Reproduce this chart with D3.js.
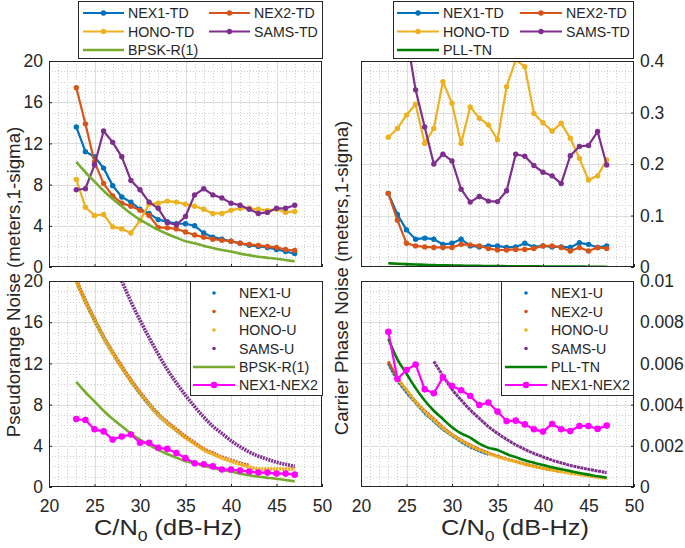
<!DOCTYPE html>
<html>
<head>
<meta charset="utf-8">
<script src="https://cdn.jsdelivr.net/npm/d3@7"></script>
<style>
  body { margin: 0; background: #fff; }
  svg text { font-family: "Liberation Sans", Arial, Helvetica, sans-serif; fill: #262626; }
</style>
</head>
<body>
<svg id="chart" width="685" height="548"></svg>
<script>
// ---- data ----
var cn0 = [23, 24, 25, 26, 27, 28, 29, 30, 31, 32, 33, 34, 35, 36, 37, 38, 39, 40, 41, 42, 43, 44, 45, 46, 47]

// pseudorange noise, tracking data (m)
var nex1PrTd = [13.6, 11.2, 10.7, 9.6, 7.9, 6.8, 6.3, 5.6, 5.2, 4.6, 4.4, 4.2, 4.2, 4.0, 3.3, 2.9, 2.7, 2.5, 2.3, 2.1, 2.0, 1.9, 1.7, 1.5, 1.3]
var nex2PrTd = [17.4, 13.9, 10.2, 8.1, 6.9, 6.2, 5.9, 5.5, 5.0, 3.85, 3.8, 3.7, 3.4, 3.1, 2.9, 2.7, 2.6, 2.5, 2.3, 2.2, 2.1, 2.0, 1.9, 1.7, 1.6]
var honoPrTd = [8.5, 5.8, 5.0, 5.1, 3.9, 3.7, 3.3, 4.5, 6.1, 6.2, 6.4, 6.3, 6.1, 5.9, 5.6, 5.2, 5.2, 5.5, 5.7, 5.7, 5.6, 5.5, 5.6, 5.3, 5.4]
var samsPrTd = [7.5, 7.6, 9.9, 13.2, 12.1, 10.7, 8.4, 7.5, 6.3, 5.7, 4.3, 4.1, 4.9, 7.0, 7.6, 7.0, 6.7, 6.2, 6.0, 5.6, 5.2, 5.3, 5.7, 5.7, 6.0]
var bpskR1 = [10.2, 9.2, 8.3, 7.4, 6.6, 5.9, 5.2, 4.6, 4.1, 3.6, 3.2, 2.85, 2.5, 2.3, 2.05, 1.85, 1.65, 1.5, 1.3, 1.15, 1.0, 0.9, 0.8, 0.68, 0.55]

// pseudorange noise, user estimates (start at 23 unless noted)
var nex1PrU = [20.0, 18.0, 16.2, 14.5, 13.0, 11.6, 10.3, 9.1, 8.0, 7.0, 6.2, 5.5, 4.8]
var nex2PrU = [20.1, 18.1, 16.3, 14.6, 13.1, 11.7, 10.4, 9.2, 8.1, 7.1, 6.3, 5.6, 4.9, 4.3, 3.7, 3.3, 2.9, 2.6, 2.3, 2.1]
var honoPrU = [20.0, 18.0, 16.2, 14.5, 13.0, 11.6, 10.3, 9.1, 8.0, 7.0, 6.2, 5.5, 4.8, 4.2, 3.6, 3.2, 2.8, 2.5, 2.2, 1.95, 1.75, 1.75, 1.75, 1.75, 1.75]
var samsPrU = [20.0, 18.0, 16.2, 14.5, 12.9, 11.4, 10.1, 8.9, 7.8, 6.8, 5.9, 5.2, 4.5, 3.9, 3.4, 3.0, 2.7, 2.4, 2.2, 2.0] // from 28
var nexDiffPr = [6.6, 6.5, 5.6, 5.4, 4.6, 4.9, 5.1, 4.3, 4.3, 3.8, 3.7, 3.3, 2.8, 2.3, 2.2, 2.0, 1.7, 1.7, 1.6, 1.5, 1.4, 1.4, 1.3, 1.3, 1.2]

// carrier phase noise, tracking data (m)
var nex1CpTd = [0.143, 0.102, 0.072, 0.054, 0.056, 0.054, 0.044, 0.046, 0.054, 0.041, 0.039, 0.041, 0.041, 0.038, 0.039, 0.046, 0.039, 0.041, 0.039, 0.039, 0.038, 0.047, 0.044, 0.038, 0.041]
var nex2CpTd = [0.143, 0.091, 0.046, 0.041, 0.039, 0.038, 0.038, 0.038, 0.044, 0.043, 0.041, 0.036, 0.033, 0.033, 0.034, 0.034, 0.036, 0.041, 0.041, 0.038, 0.031, 0.038, 0.031, 0.038, 0.036]
var honoCpTd = [0.252, 0.269, 0.295, 0.316, 0.240, 0.269, 0.360, 0.318, 0.240, 0.311, 0.289, 0.276, 0.247, 0.350, 0.402, 0.389, 0.298, 0.280, 0.264, 0.279, 0.250, 0.211, 0.169, 0.177, 0.208]
var samsCpTd = [0.60, 0.55, 0.45, 0.344, 0.272, 0.200, 0.219, 0.206, 0.151, 0.126, 0.137, 0.128, 0.127, 0.148, 0.219, 0.215, 0.197, 0.184, 0.177, 0.162, 0.216, 0.234, 0.236, 0.263, 0.198]
var pllTn = [0.0072, 0.0062, 0.0055, 0.0048, 0.0042, 0.0037, 0.0033, 0.0029, 0.0026, 0.0024, 0.0021, 0.0019, 0.0018, 0.0016, 0.00145, 0.0013, 0.00118, 0.00107, 0.00096, 0.00086, 0.00077, 0.00068, 0.0006, 0.00052, 0.00045]

// carrier phase noise, user estimates
var nex1CpU = [0.0060, 0.0052, 0.0046, 0.0041, 0.0036, 0.0032, 0.0028, 0.0025, 0.0022, 0.00195, 0.00175, 0.00158]
var nex2CpU = [0.0061, 0.0053, 0.0047, 0.00415, 0.0037, 0.0033, 0.0029, 0.00255, 0.00228, 0.00203, 0.00183, 0.00165, 0.0015, 0.00136, 0.00124, 0.00112, 0.00101, 0.00091, 0.00083, 0.00075]
var honoCpU = [0.00527, 0.0047, 0.00414, 0.00366, 0.00325, 0.00285, 0.00252, 0.00225, 0.002, 0.0018, 0.00163, 0.00147, 0.00134, 0.00122, 0.0011, 0.001, 0.0009, 0.00082, 0.00074, 0.00066, 0.0006, 0.00053, 0.00047, 0.00042] // from 24
var samsCpU = [0.0061, 0.0054, 0.00474, 0.00422, 0.00374, 0.00333, 0.00293, 0.0026, 0.00231, 0.00205, 0.00183, 0.00163, 0.00146, 0.0013, 0.00117, 0.00105, 0.00095, 0.00086, 0.00078, 0.0007] // from 28
var nexDiffCp = [0.00754, 0.00524, 0.00568, 0.00595, 0.00474, 0.00455, 0.00532, 0.0049, 0.0047, 0.00442, 0.00398, 0.0041, 0.00366, 0.0032, 0.00322, 0.00304, 0.0028, 0.00269, 0.00306, 0.0028, 0.00272, 0.00296, 0.00296, 0.00282, 0.00298]

// tick labels
var xTicks = [20, 25, 30, 35, 40, 45, 50]
var prTicks = [0, 4, 8, 12, 16, 20]
var cpTdTicks = [0, 0.1, 0.2, 0.3, 0.4]
var cpUTicks = [0, 0.002, 0.004, 0.006, 0.008, 0.01]

// ---- styles ----
var cBlue = '#0072BD', cRed = '#D95319', cYel = '#EDB120', cPur = '#7E2F8E'
var cGreen = '#77AC30', cDkGreen = '#008000', cMag = '#FF00FF'
var ink = '#262626'

var svg = d3.select('#chart')
var PW = 273, PH = 206

function pairs (xs, ys) {
  return ys.map(function (v, i) { return [xs[i], v] })
}

// one axes box with grid, ticks and clip
function makePanel (p) {
  var x = d3.scaleLinear().domain([20, 50]).range([p.left, p.left + PW])
  var y = d3.scaleLinear().domain([0, p.ymax]).range([p.top + PH, p.top])
  var g = svg.append('g')
  var clipId = 'clip-' + p.name

  svg.append('clipPath').attr('id', clipId).append('rect')
    .attr('x', p.left).attr('y', p.top).attr('width', PW).attr('height', PH)

  g.append('rect').attr('x', p.left).attr('y', p.top)
    .attr('width', PW).attr('height', PH).attr('fill', '#fff')

  // minor grid (dotted)
  var xMinor = d3.range(21, 50).filter(function (v) { return v % 5 !== 0 })
  var yMinor = d3.range(1, p.nMinor * (p.ticks.length - 1)).filter(function (i) { return i % p.nMinor !== 0 })
    .map(function (i) { return i * p.ymax / (p.nMinor * (p.ticks.length - 1)) })

  g.selectAll('.xmin').data(xMinor).enter().append('line')
    .attr('x1', function (d) { return Math.round(x(d)) + 0.5 }).attr('x2', function (d) { return Math.round(x(d)) + 0.5 })
    .attr('y1', p.top).attr('y2', p.top + PH)
    .attr('stroke', '#cfcfcf').attr('stroke-dasharray', '1,2')
  g.selectAll('.ymin').data(yMinor).enter().append('line')
    .attr('y1', function (d) { return Math.round(y(d)) + 0.5 }).attr('y2', function (d) { return Math.round(y(d)) + 0.5 })
    .attr('x1', p.left).attr('x2', p.left + PW)
    .attr('stroke', '#cfcfcf').attr('stroke-dasharray', '1,2')

  // major grid
  g.selectAll('.xmaj').data(xTicks.slice(1, -1)).enter().append('line')
    .attr('x1', function (d) { return Math.round(x(d)) + 0.5 }).attr('x2', function (d) { return Math.round(x(d)) + 0.5 })
    .attr('y1', p.top).attr('y2', p.top + PH)
    .attr('stroke', '#dcdcdc')
  g.selectAll('.ymaj').data(p.ticks.slice(1, -1)).enter().append('line')
    .attr('y1', function (d) { return Math.round(y(d)) + 0.5 }).attr('y2', function (d) { return Math.round(y(d)) + 0.5 })
    .attr('x1', p.left).attr('x2', p.left + PW)
    .attr('stroke', '#dcdcdc')

  var data = svg.append('g').attr('clip-path', 'url(#' + clipId + ')')

  return { x: x, y: y, g: g, data: data, p: p }
}

// box, ticks and tick labels go on top of the data
function finishPanel (pan) {
  var p = pan.p, x = pan.x, y = pan.y
  var g = svg.append('g')

  g.append('rect').attr('x', p.left + 0.5).attr('y', p.top + 0.5)
    .attr('width', PW - 1).attr('height', PH - 1)
    .attr('fill', 'none').attr('stroke', ink).attr('stroke-width', 1)

  var yAx = p.yRight ? d3.axisRight(y) : d3.axisLeft(y)
  yAx.tickValues(p.ticks).tickSize(-3).tickPadding(6)
    .tickFormat(function (d) { return String(d) })
  g.append('g')
    .attr('transform', 'translate(' + (p.yRight ? p.left + PW : p.left) + ',0)')
    .call(yAx)
    .call(function (s) {
      s.select('.domain').remove()
      s.selectAll('line').attr('stroke', ink)
      s.selectAll('text').attr('font-size', 17.5).attr('fill', ink)
        .style('font-family', '"Liberation Sans", Arial, sans-serif')
    })

  var xAx = d3.axisBottom(x).tickValues(xTicks).tickSize(-3).tickPadding(13)
  if (!p.showX) xAx.tickFormat('')
  g.append('g')
    .attr('transform', 'translate(0,' + (p.top + PH) + ')')
    .call(xAx)
    .call(function (s) {
      s.select('.domain').remove()
      s.selectAll('line').attr('stroke', ink)
      s.selectAll('text').attr('font-size', 17.5).attr('fill', ink)
        .style('font-family', '"Liberation Sans", Arial, sans-serif')
    })
}

var line = function (pan) {
  return d3.line().x(function (d) { return pan.x(d[0]) }).y(function (d) { return pan.y(d[1]) })
}

function tdSeries (pan, vals, color, r) {
  var pts = pairs(cn0, vals)
  pan.data.append('path').datum(pts)
    .attr('d', line(pan)).attr('fill', 'none')
    .attr('stroke', color).attr('stroke-width', 2.2).attr('stroke-linejoin', 'round')
  pan.data.selectAll(null).data(pts).enter().append('circle')
    .attr('cx', function (d) { return pan.x(d[0]) })
    .attr('cy', function (d) { return pan.y(d[1]) })
    .attr('r', r || 2.7).attr('fill', color)
}

function curve (pan, vals, color, width) {
  pan.data.append('path').datum(pairs(cn0, vals))
    .attr('d', line(pan).curve(d3.curveMonotoneX)).attr('fill', 'none')
    .attr('stroke', color).attr('stroke-width', width)
}

// user estimates are drawn as a dense chain of dots
function uSeries (pan, vals, color, xs, width, dash) {
  pan.data.append('path').datum(pairs(xs, vals))
    .attr('d', line(pan).curve(d3.curveMonotoneX)).attr('fill', 'none')
    .attr('stroke', color).attr('stroke-width', width)
    .attr('stroke-dasharray', dash)
}

// legend: items laid out on a column/row grid inside a framed box
function legend (box, cols, rows, lineLen, items) {
  var g = svg.append('g')
  g.append('rect').attr('x', box[0] + 0.5).attr('y', box[1] + 0.5)
    .attr('width', box[2]).attr('height', box[3])
    .attr('fill', '#fff').attr('stroke', ink).attr('stroke-width', 1)
  items.forEach(function (it, i) {
    var cx = cols[i % cols.length], cy = rows[Math.floor(i / cols.length)]
    if (it.kind !== 'dot') {
      g.append('line').attr('x1', cx).attr('x2', cx + lineLen)
        .attr('y1', cy).attr('y2', cy)
        .attr('stroke', it.color).attr('stroke-width', it.width || 2.2)
    }
    if (it.kind !== 'line') {
      g.append('circle').attr('cx', cx + lineLen / 2).attr('cy', cy)
        .attr('r', it.kind === 'dot' ? 1.8 : (it.r || 2.7)).attr('fill', it.color)
    }
    g.append('text').attr('x', cx + lineLen + 4).attr('y', cy).attr('dy', '0.36em')
      .attr('font-size', 14.2).text(it.label)
  })
}

// ---- panels ----
var tl = makePanel({ name: 'tl', left: 49, top: 61, ymax: 20, ticks: prTicks, nMinor: 4, showX: false })
var tr = makePanel({ name: 'tr', left: 361, top: 61, ymax: 0.4, ticks: cpTdTicks, nMinor: 5, yRight: true, showX: false })
var bl = makePanel({ name: 'bl', left: 49, top: 281, ymax: 20, ticks: prTicks, nMinor: 4, showX: true })
var br = makePanel({ name: 'br', left: 361, top: 281, ymax: 0.01, ticks: cpUTicks, nMinor: 4, yRight: true, showX: true })

// top left: pseudorange, tracking data
tdSeries(tl, nex1PrTd, cBlue)
tdSeries(tl, nex2PrTd, cRed)
tdSeries(tl, honoPrTd, cYel)
tdSeries(tl, samsPrTd, cPur)
curve(tl, bpskR1, cGreen, 2.6)

// top right: carrier phase, tracking data
tdSeries(tr, nex1CpTd, cBlue)
tdSeries(tr, nex2CpTd, cRed)
tdSeries(tr, honoCpTd, cYel)
tdSeries(tr, samsCpTd, cPur)
curve(tr, pllTn, cDkGreen, 2.6)

// bottom left: pseudorange, user estimates
uSeries(bl, nex1PrU, cBlue, cn0, 3.6, '2,0.9')
uSeries(bl, nex2PrU, cRed, cn0, 3.6, '2,0.9')
uSeries(bl, honoPrU, cYel, cn0, 3.6, '2.4,0.6')
uSeries(bl, samsPrU, cPur, cn0.slice(5), 3.6, '2,0.9')
curve(bl, bpskR1, cGreen, 2.6)
tdSeries(bl, nexDiffPr, cMag, 3.3)

// bottom right: carrier phase, user estimates
uSeries(br, nex1CpU, cBlue, cn0, 3, '3,0.6')
uSeries(br, nex2CpU, cRed, cn0, 3, '3,0.6')
uSeries(br, honoCpU, cYel, cn0.slice(1), 3, '3,0.4')
uSeries(br, samsCpU, cPur, cn0.slice(5), 3, '3,0.6')
curve(br, pllTn, cDkGreen, 2.6)
tdSeries(br, nexDiffCp, cMag, 3.3)

;[tl, tr, bl, br].forEach(finishPanel)

// legends
legend([78, 1, 244, 57], [83, 209], [13, 31.5, 50], 41, [
  { label: 'NEX1-TD', color: cBlue }, { label: 'NEX2-TD', color: cRed },
  { label: 'HONO-TD', color: cYel }, { label: 'SAMS-TD', color: cPur },
  { label: 'BPSK-R(1)', color: cGreen, kind: 'line', width: 2.6 }
])
legend([393, 1, 240, 57], [397, 520], [13, 31.5, 50], 42, [
  { label: 'NEX1-TD', color: cBlue }, { label: 'NEX2-TD', color: cRed },
  { label: 'HONO-TD', color: cYel }, { label: 'SAMS-TD', color: cPur },
  { label: 'PLL-TN', color: cDkGreen, kind: 'line', width: 2.6 }
])
legend([190, 281, 132, 114], [193], [293, 311.5, 330, 348.5, 367, 385], 42, [
  { label: 'NEX1-U', color: cBlue, kind: 'dot' }, { label: 'NEX2-U', color: cRed, kind: 'dot' },
  { label: 'HONO-U', color: cYel, kind: 'dot' }, { label: 'SAMS-U', color: cPur, kind: 'dot' },
  { label: 'BPSK-R(1)', color: cGreen, kind: 'line', width: 2.6 }, { label: 'NEX1-NEX2', color: cMag, r: 3.3 }
])
legend([501, 281, 132, 114], [505], [293, 311.5, 330, 348.5, 367, 385], 42, [
  { label: 'NEX1-U', color: cBlue, kind: 'dot' }, { label: 'NEX2-U', color: cRed, kind: 'dot' },
  { label: 'HONO-U', color: cYel, kind: 'dot' }, { label: 'SAMS-U', color: cPur, kind: 'dot' },
  { label: 'PLL-TN', color: cDkGreen, kind: 'line', width: 2.6 }, { label: 'NEX1-NEX2', color: cMag, r: 3.3 }
])

// axis titles; the x titles are drawn a little wider, as in the figure
function xTitle (cx) {
  var t = svg.append('g').attr('transform', 'translate(' + cx + ',535) scale(1.18,1)')
    .append('text').attr('text-anchor', 'middle').attr('font-size', 21.5)
  t.append('tspan').text('C/N')
  t.append('tspan').attr('font-size', 15).attr('dy', 6).text('0')
  t.append('tspan').attr('dy', -6).text(' (dB-Hz)')
}
xTitle(168)
xTitle(515)

svg.append('text').attr('transform', 'translate(20,282) rotate(-90)')
  .attr('text-anchor', 'middle').attr('font-size', 18.7)
  .text('Pseudorange Noise (meters,1-sigma)')
svg.append('text').attr('transform', 'translate(348,278) rotate(-90)')
  .attr('text-anchor', 'middle').attr('font-size', 18.7)
  .text('Carrier Phase Noise (meters,1-sigma)')
</script>
</body>
</html>
